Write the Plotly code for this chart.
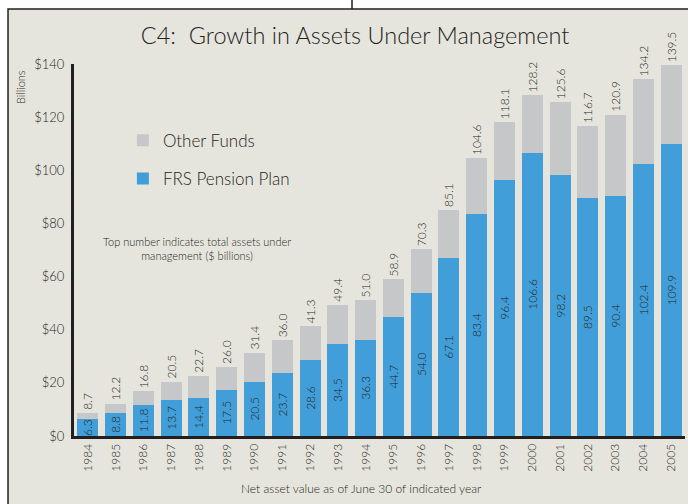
import plotly.graph_objects as go

years = ["1984", "1985", "1986", "1987", "1988", "1989", "1990", "1991", "1992", "1993", "1994",
         "1995", "1996", "1997", "1998", "1999", "2000", "2001", "2002", "2003", "2004", "2005"]
frs_pension = [6.3, 8.8, 11.8, 13.7, 14.4, 17.5, 20.5, 23.7, 28.6, 34.5, 36.3,
               44.7, 54.0, 67.1, 83.4, 96.4, 106.6, 98.2, 89.5, 90.4, 102.4, 109.9]
total_assets = [8.7, 12.2, 16.8, 20.5, 22.7, 26.0, 31.4, 36.0, 41.3, 49.4, 51.0,
                58.9, 70.3, 85.1, 104.6, 118.1, 128.2, 125.6, 116.7, 120.9, 134.2, 139.5]
other_funds = [round(t - f, 1) for t, f in zip(total_assets, frs_pension)]
y_ticks = [0, 20, 40, 60, 80, 100, 120, 140]
y_tick_labels = ["$" + str(v) for v in y_ticks]

FONT = "Lato"
W = 300
DARK = "#231f20"
BG = "#e6e5dd"
BLUE = "#419ed8"
GRAY = "#c6c7c9"

fig = go.Figure()
fig.add_trace(go.Bar(
    x=years, y=frs_pension, name="FRS Pension Plan", marker=dict(color=BLUE, line=dict(width=0)),
    text=[f"{v:.1f}" for v in frs_pension], textposition="inside", insidetextanchor="middle",
    textangle=-90, textfont=dict(family=FONT, size=12, color=DARK, weight=W), constraintext="none",
    legendgroup="frs", legendrank=2, cliponaxis=False,
))
fig.add_trace(go.Bar(
    x=years, y=other_funds, name="Other Funds", marker=dict(color=GRAY, line=dict(width=0)),
    text=[f"{v:.1f}" for v in total_assets], textposition="outside",
    textangle=-90, textfont=dict(family=FONT, size=12, color=DARK, weight=W), constraintext="none",
    legendgroup="other", legendrank=1, cliponaxis=False,
))

fig.update_layout(
    width=688, height=504,
    margin=dict(l=74, r=3, t=64, b=68),
    barmode="stack", bargap=0.245,
    paper_bgcolor="white", plot_bgcolor=BG,
    font=dict(family=FONT, color=DARK, weight=W),
    uniformtext=dict(minsize=12, mode="show"),
    showlegend=True,
    legend=dict(x=0.08, y=0.842, xanchor="left", yanchor="top", traceorder="grouped",
                font=dict(size=17, color=DARK, weight=W), bgcolor="rgba(0,0,0,0)",
                tracegroupgap=13, itemwidth=30),
    title=dict(text="C4:  Growth in Assets Under Management", x=0.516, xanchor="center",
               y=0.93, yanchor="middle", font=dict(family=FONT, size=23.5, color=DARK, weight=W)),
    xaxis=dict(showline=True, linewidth=3, linecolor=DARK, tickangle=-90, ticks="",
               tickfont=dict(size=12, color=DARK, weight=W), showgrid=False, zeroline=False),
    yaxis=dict(range=[0, 140], tickvals=y_ticks, ticktext=y_tick_labels, showline=True,
               linewidth=3, linecolor=DARK, ticks="", showgrid=False, zeroline=False,
               tickfont=dict(size=13, color=DARK, weight=W), ticklabelstandoff=4),
    shapes=[
        dict(type="rect", xref="paper", yref="paper", x0=-0.108, x1=1.05, y0=-0.25, y1=1.148,
             fillcolor=BG, line=dict(color=DARK, width=1.5), layer="below"),
        dict(type="line", xref="paper", yref="paper", x0=0.455, x1=0.455, y0=1.148, y1=1.2,
             line=dict(color=DARK, width=1.5), layer="below"),
    ],
    annotations=[
        dict(text="Billions", textangle=-90, xref="paper", yref="paper", x=-0.088, y=0.99,
             xanchor="center", yanchor="top", showarrow=False, font=dict(size=11, color=DARK, weight=W)),
        dict(text="Top number indicates total assets under<br>management ($ billions)",
             xref="paper", yref="paper", x=0.201, y=0.505, xanchor="center", yanchor="middle",
             showarrow=False, align="center", font=dict(size=11, color=DARK, weight=W)),
        dict(text="Net asset value as of June 30 of indicated year", xref="paper", yref="paper",
             x=0.471, y=-0.14, xanchor="center", yanchor="middle", showarrow=False,
             font=dict(size=12, color=DARK, weight=W)),
    ],
)

fig.write_html("out.html", config={"displayModeBar": False},
               post_script="document.body.style.margin='0';")
